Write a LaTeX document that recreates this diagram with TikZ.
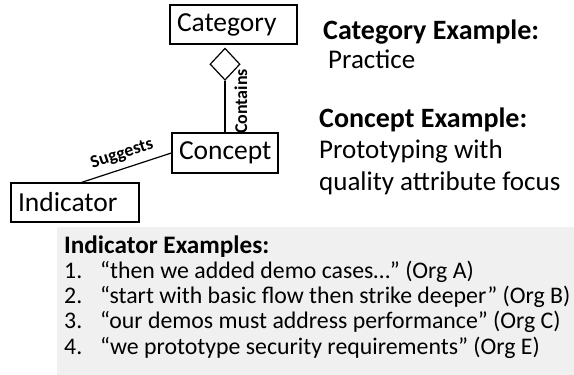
\documentclass[tikz,border=0pt]{standalone}
\usepackage{fontspec}
\setmainfont{Carlito}
\usetikzlibrary{shapes.geometric, positioning}
\definecolor{panelgrey}{HTML}{F0F0F0}

\begin{document}
\begin{tikzpicture}[x=1pt,y=-1pt,
    entity/.style={draw, line width=1.2pt, fill=white, inner xsep=7pt, inner ysep=0pt, minimum height=39pt,
                   align=left, font=\fontsize{27.5}{27.5}\selectfont},
    relname/.style={font=\bfseries\fontsize{18}{18}\selectfont},
    notes/.style={anchor=base west, align=left, inner sep=0pt}]
   \useasboundingbox (0,0) rectangle (574,375);
   \fill[panelgrey] (57,227) rectangle (574,375);

   \node[entity, text width=113pt] (cat) at (233.5,24.5) {Category};
   \node[diamond, draw, line width=1.2pt, inner sep=0pt, minimum width=30pt, minimum height=32pt,
         below=3pt of cat.south, anchor=north, xshift=-8.5pt] (agg) {};
   \node[entity, text width=92pt, minimum height=40pt] (con) at (225,153) {Concept};
   \node[entity, text width=114pt] (ind) at (75,202.5) {Indicator};

   \draw[line width=1.2pt] (con.north) -- node[relname, rotate=90, anchor=north, pos=0.6, inner ysep=9pt] {Contains} (agg.south);
   \draw[line width=1.2pt] (ind.72) -- node[relname, sloped, above, inner ysep=6pt] {Suggests} (con.west);

   % base anchor sits on the last line
   \node[notes, font=\fontsize{27}{28.5}\selectfont] (catex) at (323,68) {{\fontsize{28}{28.5}\selectfont\textbf{Category Example:}}\\\hspace*{5pt}Practice};
   \node[notes, font=\fontsize{27}{31.5}\selectfont] (conex) at (319,190) {{\fontsize{28}{31.5}\selectfont\textbf{Concept Example:}}\\Prototyping with\\quality attribute focus};

   \node[notes, font=\fontsize{23.8}{25.2}\selectfont] (index) at (64,354)
     {{\fontsize{25.2}{25.2}\selectfont\textbf{Indicator Examples:}}\\
      \makebox[36pt][l]{1.}“then we added demo cases…” (Org A)\\
      \makebox[36pt][l]{2.}“start with basic flow then strike deeper” (Org B)\\
      \makebox[36pt][l]{3.}“our demos must address performance” (Org C)\\
      \makebox[36pt][l]{4.}“we prototype security requirements” (Org E)};
\end{tikzpicture}
\end{document}
